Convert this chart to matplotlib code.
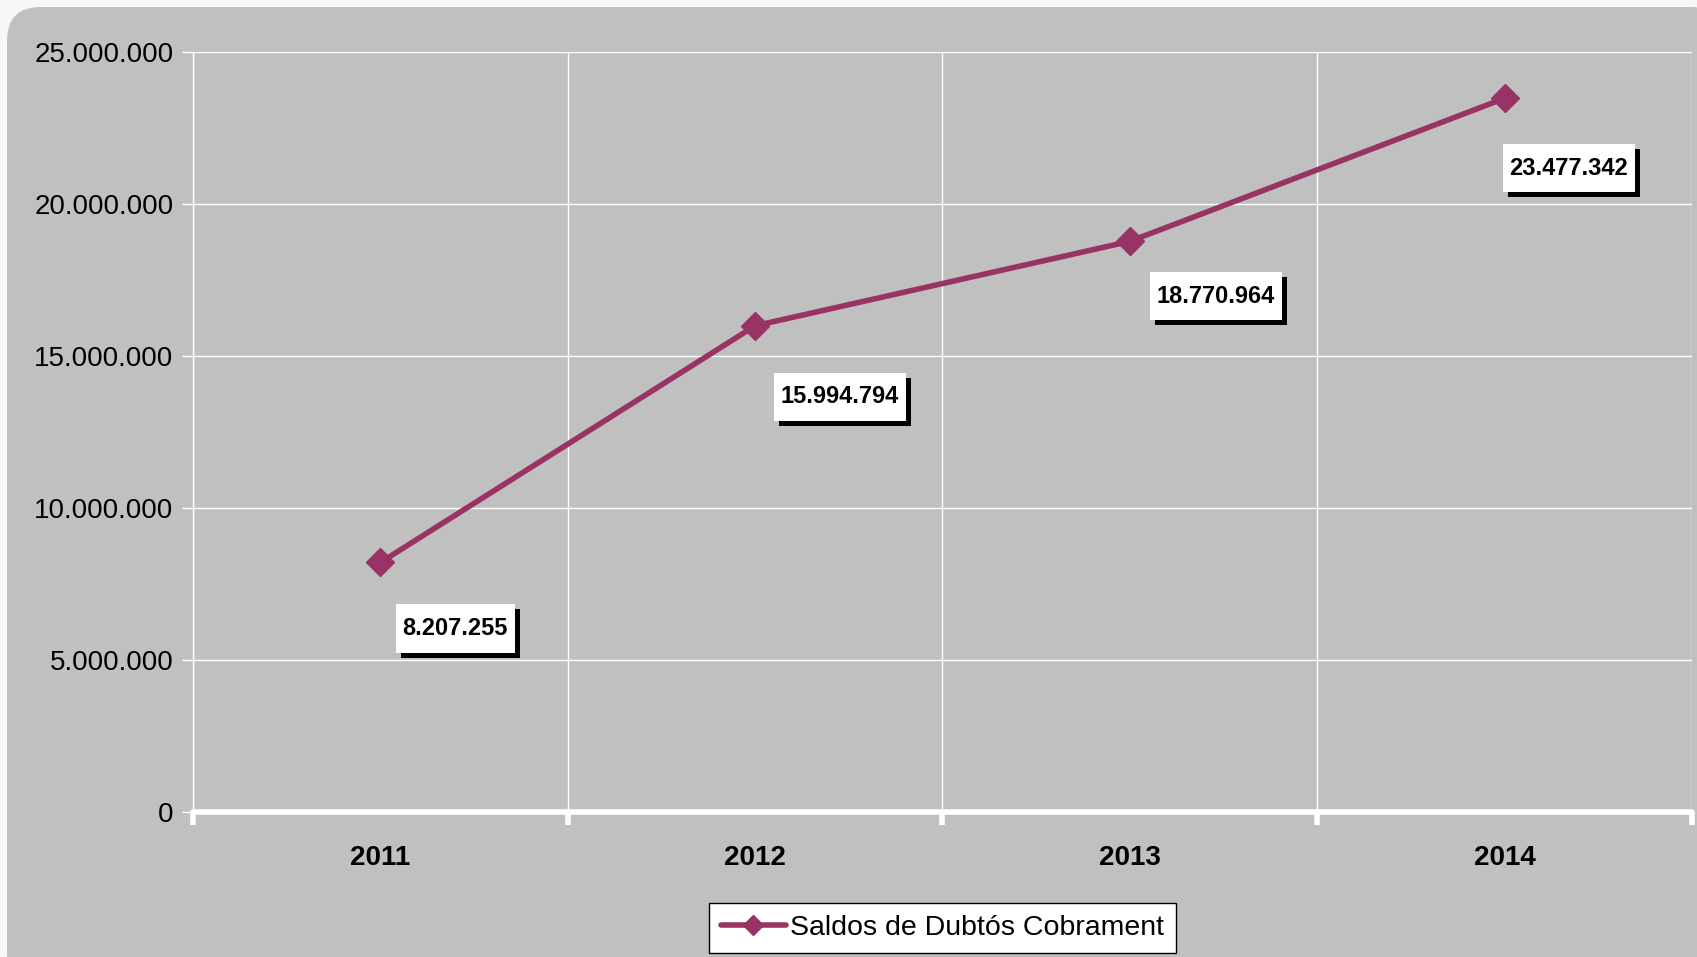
import matplotlib
matplotlib.use("Agg")
import matplotlib.pyplot as plt
from matplotlib.patches import FancyBboxPatch
from matplotlib.ticker import FuncFormatter, FixedLocator
from matplotlib import patheffects as pe

years = ["2011", "2012", "2013", "2014"]
values = [8207255, 15994794, 18770964, 23477342]
series_name = "Saldos de Dubtós Cobrament"

# label offsets (pixels: right, up) relative to each point
label_offsets = [(75, -66), (85, -71), (86, -55), (64, -70)]

plt.rcParams['font.family'] = ['Liberation Sans', 'DejaVu Sans']

W, H = 1697, 957
fig = plt.figure(figsize=(W / 100, H / 100), dpi=100)
fig.patch.set_facecolor("#f7f7f7")

bg = FancyBboxPatch((7 / W, -30 / H), (W + 20) / W, (H + 23) / H,
                    boxstyle="round,pad=0,rounding_size=0.02",
                    transform=fig.transFigure, facecolor="#c0c0c0",
                    edgecolor="none", zorder=-10, mutation_aspect=W / H)
fig.patches.append(bg)

ax = fig.add_axes([193 / W, 1 - 812 / H, (1692 - 193) / W, (812 - 52) / H])
ax.set_facecolor("#c0c0c0")

color = "#993366"
x = list(range(len(years)))
ax.plot(x, values, color=color, lw=4, marker="D", markersize=14,
        markeredgecolor=color, label=series_name, zorder=5,
        solid_capstyle="round")

ax.set_xlim(-0.5, len(years) - 0.5)
ax.set_ylim(0, 25000000)
ax.set_yticks(range(0, 25000001, 5000000))
ax.yaxis.set_major_formatter(FuncFormatter(lambda v, p: f"{int(v):,}".replace(",", ".")))
ax.set_xticks(x)
ax.set_xticklabels(years, fontsize=20, fontweight="bold")
ax.xaxis.set_minor_locator(FixedLocator([i - 0.5 for i in range(len(years) + 1)]))

ax.tick_params(axis="x", which="major", length=0, pad=24)
ax.tick_params(axis="x", which="minor", length=9, width=4, color="white")
ax.tick_params(axis="y", which="major", length=8, width=1, color="white",
               labelsize=20, pad=6)

ax.grid(True, axis="y", color="white", lw=1)
ax.grid(True, axis="x", which="minor", color="white", lw=1)
ax.set_axisbelow(True)

for s in ["top", "right"]:
    ax.spines[s].set_visible(False)
ax.spines["left"].set_color("white")
ax.spines["left"].set_linewidth(1)
ax.spines["bottom"].set_color("white")
ax.spines["bottom"].set_linewidth(4)
ax.spines["bottom"].set_capstyle("round")

for xi, v, (dx, dy) in zip(x, values, label_offsets):
    txt = f"{v:,}".replace(",", ".")
    t = ax.annotate(txt, (xi, v), xytext=(dx, dy), textcoords="offset pixels",
                    ha="center", va="center", fontsize=17, fontweight="bold",
                    color="black", zorder=7,
                    bbox=dict(boxstyle="square,pad=0.28", facecolor="white",
                              edgecolor="none", mutation_aspect=1.9))
    t.get_bbox_patch().set_path_effects([
        pe.SimplePatchShadow(offset=(3.6, -3.6), shadow_rgbFace="black", alpha=1),
        pe.Normal()])

leg = fig.legend(loc="center", bbox_to_anchor=(942.5 / W, 1 - 928 / H),
                 fontsize=20.5, frameon=True, fancybox=False, framealpha=1,
                 edgecolor="black", facecolor="white", handlelength=2.3,
                 handletextpad=0.15, borderpad=0.42, borderaxespad=0)
leg.get_frame().set_linewidth(1)
for h in leg.legend_handles:
    h.set_markersize(10)

fig.savefig("out.png", dpi=100, facecolor=fig.get_facecolor())
